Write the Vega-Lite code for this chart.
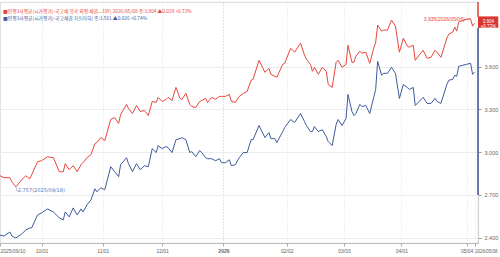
{
  "$schema": "https://vega.github.io/schema/vega-lite/v6.json",
  "width": 478,
  "height": 241,
  "autosize": {"type": "none"},
  "padding": {"left": 0, "top": 2, "right": 22, "bottom": 14},
  "background": "white",
  "config": {
    "view": {"stroke": "#d0d0d0", "strokeWidth": 0.8},
    "font": "Noto Sans CJK KR"
  },
  "title": {
    "text": "■민평3사평균(시가평가)-국고채 양곡 외평 채권...10Y) 2026/05/08 종:3.904  ▲0.028  +0.72%",
    "subtitle": "■민평3사평균(시가평가)-국고채권 3년(이하) 종:3.561  ▲0.026  +0.74%",
    "anchor": "start",
    "orient": "top",
    "frame": "group",
    "offset": -20,
    "fontSize": 4.8,
    "fontWeight": "normal",
    "color": "#e8463c",
    "subtitleFontSize": 4.8,
    "subtitleColor": "#3f5b9c",
    "subtitlePadding": 3,
    "dx": 3
  },
  "layer": [
    {
      "data": {"values": [
        {"d":"2025-09-10","r":2.835,"b":2.419},
        {"d":"2025-09-12","r":2.821,"b":2.412},
        {"d":"2025-09-15","r":2.821,"b":2.440},
        {"d":"2025-09-16","r":2.792,"b":2.412},
        {"d":"2025-09-18","r":2.757,"b":2.398},
        {"d":"2025-09-21","r":2.806,"b":2.426},
        {"d":"2025-09-23","r":2.835,"b":2.454},
        {"d":"2025-09-25","r":2.813,"b":2.468},
        {"d":"2025-09-26","r":2.842,"b":2.468},
        {"d":"2025-09-29","r":2.933,"b":2.560},
        {"d":"2025-10-01","r":2.940,"b":2.574},
        {"d":"2025-10-04","r":2.968,"b":2.602},
        {"d":"2025-10-07","r":2.961,"b":2.581},
        {"d":"2025-10-10","r":2.863,"b":2.539},
        {"d":"2025-10-12","r":2.863,"b":2.525},
        {"d":"2025-10-13","r":2.919,"b":2.581},
        {"d":"2025-10-15","r":2.877,"b":2.546},
        {"d":"2025-10-17","r":2.905,"b":2.609},
        {"d":"2025-10-19","r":2.863,"b":2.560},
        {"d":"2025-10-21","r":2.912,"b":2.602},
        {"d":"2025-10-22","r":2.926,"b":2.581},
        {"d":"2025-10-24","r":2.961,"b":2.630},
        {"d":"2025-10-26","r":2.982,"b":2.665},
        {"d":"2025-10-28","r":3.060,"b":2.743},
        {"d":"2025-10-29","r":3.067,"b":2.722},
        {"d":"2025-10-31","r":3.102,"b":2.750},
        {"d":"2025-11-02","r":3.081,"b":2.736},
        {"d":"2025-11-05","r":3.229,"b":2.898},
        {"d":"2025-11-07","r":3.243,"b":2.863},
        {"d":"2025-11-09","r":3.201,"b":2.828},
        {"d":"2025-11-10","r":3.264,"b":2.912},
        {"d":"2025-11-13","r":3.335,"b":2.961},
        {"d":"2025-11-14","r":3.306,"b":2.919},
        {"d":"2025-11-16","r":3.271,"b":2.863},
        {"d":"2025-11-18","r":3.327,"b":2.919},
        {"d":"2025-11-20","r":3.285,"b":2.877},
        {"d":"2025-11-22","r":3.292,"b":2.905},
        {"d":"2025-11-24","r":3.257,"b":2.898},
        {"d":"2025-11-26","r":3.356,"b":3.025},
        {"d":"2025-11-28","r":3.349,"b":2.997},
        {"d":"2025-11-29","r":3.384,"b":3.046},
        {"d":"2025-12-01","r":3.356,"b":3.025},
        {"d":"2025-12-03","r":3.370,"b":3.039},
        {"d":"2025-12-04","r":3.384,"b":3.032},
        {"d":"2025-12-06","r":3.363,"b":2.997},
        {"d":"2025-12-08","r":3.454,"b":3.088},
        {"d":"2025-12-10","r":3.377,"b":3.095},
        {"d":"2025-12-11","r":3.370,"b":3.102},
        {"d":"2025-12-13","r":3.412,"b":3.088},
        {"d":"2025-12-15","r":3.335,"b":2.997},
        {"d":"2025-12-16","r":3.320,"b":3.004},
        {"d":"2025-12-18","r":3.313,"b":2.968},
        {"d":"2025-12-20","r":3.356,"b":3.011},
        {"d":"2025-12-21","r":3.363,"b":2.997},
        {"d":"2025-12-23","r":3.377,"b":2.961},
        {"d":"2025-12-24","r":3.349,"b":2.954},
        {"d":"2025-12-26","r":3.384,"b":2.954},
        {"d":"2025-12-28","r":3.370,"b":2.940},
        {"d":"2025-12-30","r":3.391,"b":2.954},
        {"d":"2025-12-31","r":3.391,"b":2.926},
        {"d":"2026-01-02","r":3.391,"b":2.926},
        {"d":"2026-01-04","r":3.405,"b":2.947},
        {"d":"2026-01-05","r":3.356,"b":2.905},
        {"d":"2026-01-07","r":3.349,"b":2.912},
        {"d":"2026-01-09","r":3.391,"b":2.961},
        {"d":"2026-01-11","r":3.412,"b":2.997},
        {"d":"2026-01-13","r":3.426,"b":2.997},
        {"d":"2026-01-15","r":3.504,"b":3.088},
        {"d":"2026-01-16","r":3.511,"b":3.088},
        {"d":"2026-01-19","r":3.644,"b":3.187},
        {"d":"2026-01-22","r":3.560,"b":3.102},
        {"d":"2026-01-24","r":3.588,"b":3.137},
        {"d":"2026-01-25","r":3.546,"b":3.095},
        {"d":"2026-01-27","r":3.532,"b":3.095},
        {"d":"2026-01-28","r":3.525,"b":3.067},
        {"d":"2026-01-31","r":3.616,"b":3.144},
        {"d":"2026-02-01","r":3.623,"b":3.173},
        {"d":"2026-02-04","r":3.729,"b":3.229},
        {"d":"2026-02-06","r":3.701,"b":3.208},
        {"d":"2026-02-09","r":3.764,"b":3.271},
        {"d":"2026-02-11","r":3.680,"b":3.215},
        {"d":"2026-02-12","r":3.651,"b":3.187},
        {"d":"2026-02-14","r":3.616,"b":3.144},
        {"d":"2026-02-15","r":3.567,"b":3.144},
        {"d":"2026-02-16","r":3.595,"b":3.180},
        {"d":"2026-02-18","r":3.546,"b":3.144},
        {"d":"2026-02-20","r":3.595,"b":3.158},
        {"d":"2026-02-22","r":3.567,"b":3.109},
        {"d":"2026-02-23","r":3.475,"b":3.074},
        {"d":"2026-02-25","r":3.454,"b":3.046},
        {"d":"2026-02-27","r":3.630,"b":3.194},
        {"d":"2026-02-28","r":3.644,"b":3.229},
        {"d":"2026-03-02","r":3.595,"b":3.187},
        {"d":"2026-03-04","r":3.616,"b":3.236},
        {"d":"2026-03-05","r":3.750,"b":3.405},
        {"d":"2026-03-07","r":3.630,"b":3.285},
        {"d":"2026-03-08","r":3.630,"b":3.257},
        {"d":"2026-03-09","r":3.673,"b":3.271},
        {"d":"2026-03-11","r":3.708,"b":3.335},
        {"d":"2026-03-12","r":3.694,"b":3.320},
        {"d":"2026-03-14","r":3.701,"b":3.327},
        {"d":"2026-03-16","r":3.623,"b":3.271},
        {"d":"2026-03-18","r":3.729,"b":3.384},
        {"d":"2026-03-19","r":3.771,"b":3.440},
        {"d":"2026-03-20","r":3.891,"b":3.637},
        {"d":"2026-03-22","r":3.849,"b":3.539},
        {"d":"2026-03-23","r":3.856,"b":3.553},
        {"d":"2026-03-25","r":3.856,"b":3.553},
        {"d":"2026-03-27","r":3.926,"b":3.595},
        {"d":"2026-03-29","r":3.884,"b":3.553},
        {"d":"2026-03-31","r":3.701,"b":3.377},
        {"d":"2026-04-02","r":3.799,"b":3.475},
        {"d":"2026-04-04","r":3.743,"b":3.454},
        {"d":"2026-04-05","r":3.736,"b":3.440},
        {"d":"2026-04-07","r":3.750,"b":3.454},
        {"d":"2026-04-08","r":3.644,"b":3.327},
        {"d":"2026-04-10","r":3.680,"b":3.356},
        {"d":"2026-04-12","r":3.715,"b":3.384},
        {"d":"2026-04-14","r":3.658,"b":3.342},
        {"d":"2026-04-16","r":3.665,"b":3.342},
        {"d":"2026-04-18","r":3.715,"b":3.377},
        {"d":"2026-04-19","r":3.701,"b":3.356},
        {"d":"2026-04-21","r":3.665,"b":3.342},
        {"d":"2026-04-24","r":3.799,"b":3.475},
        {"d":"2026-04-25","r":3.828,"b":3.504},
        {"d":"2026-04-27","r":3.842,"b":3.511},
        {"d":"2026-04-28","r":3.877,"b":3.539},
        {"d":"2026-04-29","r":3.849,"b":3.532},
        {"d":"2026-04-30","r":3.912,"b":3.602},
        {"d":"2026-05-04","r":3.933,"b":3.616},
        {"d":"2026-05-06","r":3.935,"b":3.623},
        {"d":"2026-05-07","r":3.884,"b":3.546},
        {"d":"2026-05-08","r":3.904,"b":3.561}
      ]},
      "transform": [{"fold": ["b", "r"], "as": ["s", "v"]}],
      "mark": {"type": "line", "strokeWidth": 1, "interpolate": "linear"},
      "encoding": {
        "x": {
          "field": "d",
          "type": "temporal",
          "scale": {
            "type": "utc",
            "domain": [
              {"year": 2025, "month": 9, "date": 10, "utc": true},
              {"year": 2026, "month": 5, "date": 9, "hours": 18, "utc": true}
            ]
          },
          "axis": {
            "title": null,
            "values": [
              {"year": 2025, "month": 9, "date": 10, "utc": true},
              {"year": 2025, "month": 10, "date": 1, "utc": true},
              {"year": 2025, "month": 11, "date": 1, "utc": true},
              {"year": 2025, "month": 12, "date": 1, "utc": true},
              {"year": 2026, "month": 1, "date": 1, "utc": true},
              {"year": 2026, "month": 2, "date": 2, "utc": true},
              {"year": 2026, "month": 3, "date": 3, "utc": true},
              {"year": 2026, "month": 4, "date": 1, "utc": true},
              {"year": 2026, "month": 5, "date": 4, "utc": true},
              {"year": 2026, "month": 5, "date": 8, "utc": true}
            ],
            "labelExpr": "utcmonth(datum.value)==0 ? '2026' : ((utcmonth(datum.value)==8) || (utcmonth(datum.value)==4 && utcdate(datum.value)==8)) ? utcFormat(datum.value,'%Y/%m/%d') : utcFormat(datum.value,'%m/%d')",
            "labelAlign": {"condition": {"test": "utcmonth(datum.value)==8 || (utcmonth(datum.value)==4 && utcdate(datum.value)==8)", "value": "left"}, "value": "center"},
            "labelFontWeight": {"condition": {"test": "utcmonth(datum.value)==0", "value": "bold"}, "value": "normal"},
            "labelFontSize": {"condition": {"test": "utcmonth(datum.value)==4 && utcdate(datum.value)==8", "value": 4.5}, "value": 5},
            "labelColor": "#666",
            "labelFont": "Liberation Sans",
            "labelPadding": 2,
            "labelOverlap": false,
            "labelFlush": false,
            "labelBound": false,
            "tickSize": 3,
            "tickColor": "#aaa",
            "domainColor": "#bbb",
            "grid": true,
            "gridColor": {"condition": {"test": "utcmonth(datum.value)==0", "value": "#c8c8c8"}, "value": "#e2e2e2"},
            "gridDash": [1, 2]
          }
        },
        "y": {
          "field": "v",
          "type": "quantitative",
          "scale": {"domain": [2.363, 4.053], "nice": false, "zero": false},
          "axis": {
            "orient": "right",
            "title": null,
            "values": [2.4, 2.55, 2.7, 2.85, 3.0, 3.15, 3.3, 3.45, 3.6, 3.75],
            "format": ".3f",
            "labelFontSize": 5.5,
            "labelFont": "Liberation Sans",
            "labelColor": "#666",
            "labelPadding": 3,
            "tickSize": 3,
            "tickColor": "#999",
            "domainColor": "#ccc",
            "grid": true,
            "gridColor": "#ececec"
          }
        },
        "color": {
          "field": "s",
          "type": "nominal",
          "scale": {"domain": ["r", "b"], "range": ["#e8463c", "#3f5b9c"]},
          "legend": null
        }
      }
    },
    {
      "data": {"values": [{}]},
      "mark": {"type": "rule", "strokeWidth": 1.5, "color": "#3f5b9c", "clip": false},
      "encoding": {
        "x": {"datum": {"year": 2026, "month": 5, "date": 9, "hours": 18, "utc": true}, "type": "temporal"},
        "y": {"datum": 3.87},
        "y2": {"datum": 2.70}
      }
    },
    {
      "data": {"values": [{}]},
      "mark": {"type": "rule", "strokeWidth": 1.5, "color": "#e8463c", "clip": false},
      "encoding": {
        "x": {"datum": {"year": 2026, "month": 5, "date": 9, "hours": 18, "utc": true}, "type": "temporal"},
        "y": {"datum": 4.053},
        "y2": {"datum": 3.95}
      }
    },
    {
      "data": {"values": [{}]},
      "mark": {"type": "rect", "color": "#d8372f", "clip": false},
      "encoding": {
        "x": {"datum": {"year": 2026, "month": 5, "date": 9, "hours": 18, "utc": true}, "type": "temporal"},
        "x2": {"datum": {"year": 2026, "month": 5, "date": 20, "utc": true}},
        "y": {"datum": 3.952},
        "y2": {"datum": 3.872}
      }
    },
    {
      "data": {"values": [{}]},
      "mark": {"type": "text", "color": "white", "fontSize": 4.5, "font": "Liberation Sans", "align": "center", "baseline": "middle", "lineHeight": 5, "clip": false, "text": ["3.904", "+0.72%"]},
      "encoding": {
        "x": {"datum": {"year": 2026, "month": 5, "date": 15, "utc": true}, "type": "temporal"},
        "y": {"datum": 3.912}
      }
    },
    {
      "data": {"values": [{}]},
      "mark": {"type": "text", "color": "#e8463c", "fontSize": 5, "font": "Liberation Sans", "align": "right", "baseline": "middle", "dx": -1, "text": "3.935(2026/05/06)—"},
      "encoding": {
        "x": {"datum": {"year": 2026, "month": 5, "date": 6, "utc": true}, "type": "temporal"},
        "y": {"datum": 3.935}
      }
    },
    {
      "data": {"values": [{}]},
      "mark": {"type": "text", "color": "#5a74b4", "fontSize": 5, "font": "DejaVu Sans", "align": "left", "baseline": "top", "dx": -1, "dy": 1, "text": "└2.757(2025/09/18)"},
      "encoding": {
        "x": {"datum": {"year": 2025, "month": 9, "date": 18, "utc": true}, "type": "temporal"},
        "y": {"datum": 2.757}
      }
    }
  ]
}
